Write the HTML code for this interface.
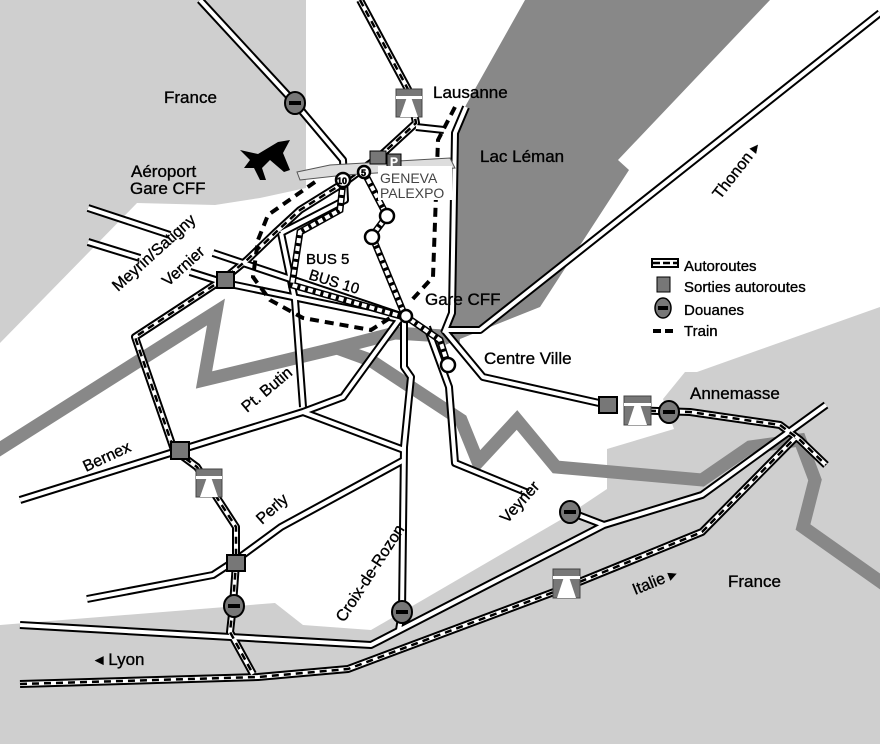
<!DOCTYPE html>
<html><head><meta charset="utf-8"><style>
html,body{margin:0;padding:0;background:#fff}
svg{display:block}
text{font-family:"Liberation Sans",sans-serif;font-size:17px;fill:#000;stroke:#000;stroke-width:0.35}
.r1{fill:none;stroke:#000;stroke-width:8;stroke-linejoin:round}
.r2{fill:none;stroke:#fff;stroke-width:4;stroke-linejoin:round}
.ad{fill:none;stroke:#000;stroke-width:2.5;stroke-dasharray:7 5}
.tr{fill:none;stroke:#000;stroke-width:4;stroke-dasharray:9 6}
.bus{fill:none;stroke:#000;stroke-width:7}
.bus2{fill:none;stroke:#fff;stroke-width:4;stroke-dasharray:5 3}
</style></head><body>
<svg width="880" height="744" viewBox="0 0 880 744" xmlns="http://www.w3.org/2000/svg">
<!-- light gray areas -->
<polygon fill="#cfcfcf" points="0,0 306,0 306,188 260,198 215,205 137,203 0,343"/>
<polygon fill="#cfcfcf" points="0,625 275,603 303,625 371,630 562,519 607,489 607,449 674,429 663,399 685,372 697,372 880,307 880,744 0,744"/>
<!-- lake -->
<polygon fill="#888" points="525,0 770,0 618,160 629,170 540,307 445,345 452,313 455,133 466,105"/>
<!-- border -->
<polyline fill="none" stroke="#888" stroke-width="13" stroke-linejoin="miter" points="-5,452 216,312 204,380 337,348 395,333 460,337"/>
<polyline fill="none" stroke="#888" stroke-width="13" points="337,348 370,360 461,420 478,462 517,420 556,467 702,480 750,447 800,440 815,480 803,527 885,585"/>

<!-- roads outlines -->
<g class="r1">
<polyline points="200,0 295,103 343,160 345,200 281,233"/>
<polyline points="88,208 170,235"/>
<polyline points="88,242 140,258"/>
<polyline points="213,253 404,317"/>
<polyline points="190,272 225,283 404,320"/>
<polyline points="281,233 295,300 303,407"/>
<polyline points="20,500 180,450 303,412 343,397 404,313"/>
<polyline points="303,412 404,450"/>
<polyline points="87,599 213,575 236,560 281,527 404,460"/>
<polyline points="404,313 404,367 411,377 404,447 402,612 399,630"/>
<polyline points="427,327 449,387 455,463 528,493"/>
<polyline points="20,625 371,645 604,525 702,495 826,405"/>
<polyline points="570,512 604,525"/>
<polyline points="444,330 483,377 608,405"/>
<polyline points="880,13 480,330 445,330"/>
<polyline points="466,107 455,133 452,313 444,333"/>
<polyline points="416,127 444,130"/>
<!-- autoroutes -->
<polyline points="360,0 410,93 416,123 379,157 345,182 300,210 275,233 247,260 225,278 135,337 174,450 197,467 236,527 236,563 233,605 230,632 253,674"/>
<polyline points="20,684 258,677 348,669 562,589 702,532 795,438"/>
<polyline points="625,410 690,412 780,425 800,440 826,465"/>
</g>
<g class="r2">
<polyline points="200,0 295,103 343,160 345,200 281,233"/>
<polyline points="88,208 170,235"/>
<polyline points="88,242 140,258"/>
<polyline points="213,253 404,317"/>
<polyline points="190,272 225,283 404,320"/>
<polyline points="281,233 295,300 303,407"/>
<polyline points="20,500 180,450 303,412 343,397 404,313"/>
<polyline points="303,412 404,450"/>
<polyline points="87,599 213,575 236,560 281,527 404,460"/>
<polyline points="404,313 404,367 411,377 404,447 402,612 399,630"/>
<polyline points="427,327 449,387 455,463 528,493"/>
<polyline points="20,625 371,645 604,525 702,495 826,405"/>
<polyline points="570,512 604,525"/>
<polyline points="444,330 483,377 608,405"/>
<polyline points="880,13 480,330 445,330"/>
<polyline points="466,107 455,133 452,313 444,333"/>
<polyline points="416,127 444,130"/>
<polyline points="360,0 410,93 416,123 379,157 345,182 300,210 275,233 247,260 225,278 135,337 174,450 197,467 236,527 236,563 233,605 230,632 253,674"/>
<polyline points="20,684 258,677 348,669 562,589 702,532 795,438"/>
<polyline points="625,410 690,412 780,425 800,440 826,465"/>
</g>
<g class="ad">
<polyline points="360,0 410,93 416,123 379,157 345,182 300,210 275,233 247,260 225,278 135,337 174,450 197,467 236,527 236,563 233,605 230,632 253,674"/>
<polyline points="20,684 258,677 348,669 562,589 702,532 795,438"/>
<polyline points="625,410 690,412 780,425 800,440 826,465"/>
</g>
<!-- train -->
<polyline class="tr" points="455,107 438,140 433,277 410,302"/>
<polyline class="tr" points="315,182 268,215 258,240 253,277 270,300 303,318 371,330 390,318"/>
<!-- bus lines -->
<polyline class="bus" points="343,182 340,210 300,232 292,285 404,317"/>
<polyline class="bus2" points="343,182 340,210 300,232 292,285 404,317"/>
<polyline class="bus" points="364,172 387,216 372,236 405,316 440,340 448,365"/>
<polyline class="bus2" points="364,172 387,216 372,236 405,316 440,340 448,365"/>
<!-- airport building -->
<polygon points="297,172 330,165 450,158 455,168 345,175 300,180" fill="#ddd" stroke="#555" stroke-width="1"/>
<rect x="370" y="151" width="16" height="13" fill="#777" stroke="#000"/>
<rect x="387" y="154" width="14" height="14" fill="#666" stroke="#000"/>
<text x="390" y="166" style="font-size:12px;fill:#fff;stroke:#fff;stroke-width:0.3;font-weight:bold">P</text>
<rect x="378" y="166" width="74" height="34" fill="#fff"/>
<text x="380" y="183" style="font-size:14px;fill:#444;stroke:none">GENEVA</text>
<text x="380" y="198" style="font-size:14px;fill:#444;stroke:none">PALEXPO</text>
<!-- circles -->
<g fill="#fff" stroke="#000" stroke-width="2.5">
<circle cx="387" cy="216" r="7"/><circle cx="372" cy="237" r="7"/><circle cx="448" cy="365" r="7"/><circle cx="406" cy="316" r="6"/>
<circle cx="343" cy="180" r="7"/><circle cx="364" cy="172" r="6"/>
</g>
<text x="337" y="184" style="font-size:9px;stroke-width:0.5;font-weight:bold">10</text>
<text x="361" y="176" style="font-size:9px;stroke-width:0.5;font-weight:bold">5</text>
<!-- plane -->
<path d="M240,150 L258,154 L278,142 L290,140 L283,153 L290,170 L284,172 L270,160 L262,168 L266,180 L260,180 L254,168 L244,168 L250,160 Z" fill="#000"/>
<!-- exit squares -->
<g fill="#777" stroke="#000" stroke-width="2">
<rect x="217" y="272" width="17" height="16"/><rect x="171" y="442" width="18" height="17"/>
<rect x="227" y="555" width="18" height="16"/><rect x="599" y="397" width="18" height="16"/>
</g>
<!-- autoroute signs -->
<g>
<g transform="translate(396,89)"><rect width="26" height="28" fill="#777" stroke="#444"/><polygon points="4,28 11,8 15,8 22,28" fill="#fff"/><rect x="0" y="7" width="26" height="3" fill="#fff"/></g>
<g transform="translate(196,469)"><rect width="26" height="28" fill="#777" stroke="#444"/><polygon points="4,28 11,8 15,8 22,28" fill="#fff"/><rect x="0" y="7" width="26" height="3" fill="#fff"/></g>
<g transform="translate(553,569)"><rect width="27" height="29" fill="#777" stroke="#444"/><polygon points="4,29 11,8 16,8 23,29" fill="#fff"/><rect x="0" y="7" width="27" height="3" fill="#fff"/></g>
<g transform="translate(624,396)"><rect width="27" height="29" fill="#777" stroke="#444"/><polygon points="4,29 11,8 16,8 23,29" fill="#fff"/><rect x="0" y="7" width="27" height="3" fill="#fff"/></g>
</g>
<!-- customs -->
<g>
<g transform="translate(295,103)"><ellipse rx="10" ry="11" fill="#777" stroke="#000" stroke-width="2"/><rect x="-6" y="-2" width="12" height="4"/></g>
<g transform="translate(234,606)"><ellipse rx="10" ry="11" fill="#777" stroke="#000" stroke-width="2"/><rect x="-6" y="-2" width="12" height="4"/></g>
<g transform="translate(402,612)"><ellipse rx="10" ry="11" fill="#777" stroke="#000" stroke-width="2"/><rect x="-6" y="-2" width="12" height="4"/></g>
<g transform="translate(570,512)"><ellipse rx="10" ry="11" fill="#777" stroke="#000" stroke-width="2"/><rect x="-6" y="-2" width="12" height="4"/></g>
<g transform="translate(669,412)"><ellipse rx="10" ry="11" fill="#777" stroke="#000" stroke-width="2"/><rect x="-6" y="-2" width="12" height="4"/></g>
</g>
<!-- legend -->
<rect x="652" y="259" width="26" height="8" fill="#fff" stroke="#000" stroke-width="2"/>
<line x1="653" y1="263" x2="677" y2="263" stroke="#000" stroke-width="2.5" stroke-dasharray="7 3"/>
<rect x="657" y="277" width="13" height="15" fill="#777" stroke="#000"/>
<ellipse cx="663" cy="308" rx="8" ry="10" fill="#777" stroke="#000" stroke-width="1.5"/><rect x="658" y="306" width="10" height="4"/>
<line x1="653" y1="331" x2="677" y2="331" stroke="#000" stroke-width="4" stroke-dasharray="8 4"/>
<text x="684" y="271" style="font-size:15px">Autoroutes</text>
<text x="684" y="292" style="font-size:15px">Sorties autoroutes</text>
<text x="684" y="315" style="font-size:15px">Douanes</text>
<text x="684" y="336" style="font-size:15px">Train</text>
<!-- labels -->
<text x="164" y="103">France</text>
<text x="433" y="98">Lausanne</text>
<text x="480" y="162">Lac Léman</text>
<text x="131" y="177">Aéroport</text>
<text x="130" y="194">Gare CFF</text>
<text x="425" y="305">Gare CFF</text>
<text x="484" y="364">Centre Ville</text>
<text x="690" y="399">Annemasse</text>
<text x="728" y="587">France</text>
<text x="95" y="665">◂ Lyon</text>
<text x="306" y="264" style="font-size:15px">BUS 5</text>
<text transform="translate(308,279) rotate(17)" style="font-size:15px">BUS 10</text>
<text transform="translate(118,292) rotate(-42)" style="font-size:16px">Meyrin/Satigny</text>
<text transform="translate(168,287) rotate(-42)" style="font-size:16px">Vernier</text>
<text transform="translate(720,200) rotate(-52)" style="font-size:16px">Thonon ▸</text>
<text transform="translate(247,413) rotate(-40)" style="font-size:16px">Pt. Butin</text>
<text transform="translate(86,472) rotate(-25)" style="font-size:16px">Bernex</text>
<text transform="translate(262,525) rotate(-42)" style="font-size:16px">Perly</text>
<text transform="translate(507,524) rotate(-48)" style="font-size:16px">Veyrier</text>
<text transform="translate(344,623) rotate(-57)" style="font-size:16px">Croix-de-Rozon</text>
<text transform="translate(635,595) rotate(-22)" style="font-size:16px">Italie ▸</text>
</svg>
</body></html>
